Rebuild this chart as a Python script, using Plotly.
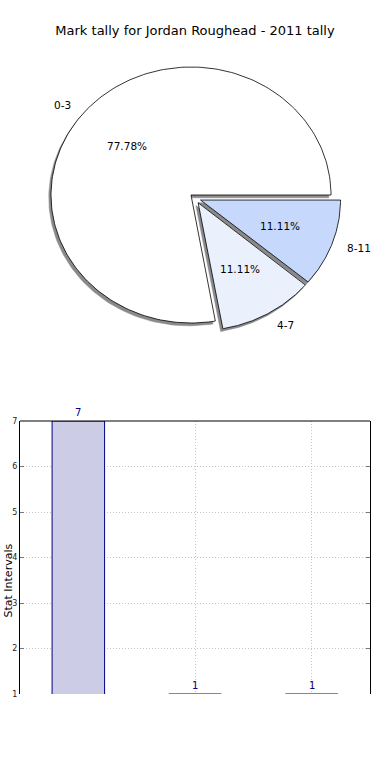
import numpy as np
import plotly.graph_objects as go

# ---- data ----
slice_labels = ["0-3", "4-7", "8-11"]
slice_counts = [7, 1, 1]
slice_colors = ["#ffffff", "#eaf1fd", "#c6d9fd"]
bar_categories = ["0-3", "4-7", "8-11"]
bar_values = [7, 1, 1]
y_ticks = [1, 2, 3, 4, 5, 6, 7]

W, H = 390, 780
explode = 0.04
shadow_dx, shadow_dy = -0.016, -0.022

fig = go.Figure()

total = float(sum(slice_counts))
fracs = [c / total for c in slice_counts]

wedges = []
start = 0.0
for lab, f, col in zip(slice_labels, fracs, slice_colors):
    t1, t2 = start * 2 * np.pi, (start + f) * 2 * np.pi
    mid = (t1 + t2) / 2
    cx, cy = explode * np.cos(mid), explode * np.sin(mid)
    th = np.linspace(t1, t2, 200)
    xs = np.concatenate([[cx], cx + np.cos(th), [cx]])
    ys = np.concatenate([[cy], cy + np.sin(th), [cy]])
    wedges.append((lab, f, col, mid, cx, cy, xs, ys))
    start += f

for lab, f, col, mid, cx, cy, xs, ys in wedges:
    fig.add_trace(go.Scatter(x=xs + shadow_dx, y=ys + shadow_dy, fill="toself",
                             fillcolor="#8a8a8a", line=dict(color="#8a8a8a", width=0.5),
                             mode="lines", hoverinfo="skip", xaxis="x2", yaxis="y2"))
for lab, f, col, mid, cx, cy, xs, ys in wedges:
    fig.add_trace(go.Scatter(x=xs, y=ys, fill="toself", fillcolor=col,
                             line=dict(color="black", width=0.8),
                             mode="lines", name=lab, xaxis="x2", yaxis="y2"))

annotations = []
for lab, f, col, mid, cx, cy, xs, ys in wedges:
    lx, ly = cx + 1.1 * np.cos(mid), cy + 1.1 * np.sin(mid)
    annotations.append(dict(x=lx, y=ly, xref="x2", yref="y2", text=lab, showarrow=False,
                            xanchor="left" if lx > 0 else "right", yanchor="middle",
                            font=dict(size=10.5, color="black")))
    px_, py_ = cx + 0.6 * np.cos(mid), cy + 0.6 * np.sin(mid)
    annotations.append(dict(x=px_, y=py_, xref="x2", yref="y2", text=f"{f*100:.2f}%",
                            showarrow=False, xanchor="center", yanchor="middle",
                            font=dict(size=10.5, color="black")))

# ---- bar chart ----
fig.add_trace(go.Bar(x=bar_categories, y=bar_values, width=0.45,
                     marker=dict(color="#cccce6", line=dict(color="#000080", width=1)),
                     xaxis="x", yaxis="y", cliponaxis=False))
for c, v in zip(bar_categories, bar_values):
    annotations.append(dict(x=c, y=v, xref="x", yref="y", text=str(v), showarrow=False,
                            yanchor="bottom", yshift=1, font=dict(size=10, color="#000080")))

annotations.append(dict(x=-1 / W, y=1 - 581 / H, xref="paper", yref="paper",
                        text="Stat Intervals", textangle=-90, showarrow=False,
                        xanchor="left", yanchor="middle",
                        font=dict(size=11, color="black")))

cx_px, cy_px, rx_px, ry_px = 195.3, 198.3, 140.0, 128.0
pie_top, pie_bot = 40, 360
fig.update_layout(
    xaxis2=dict(domain=[0, 1], range=[-cx_px / rx_px, (W - cx_px) / rx_px], visible=False,
                anchor="y2", fixedrange=True, automargin=False),
    yaxis2=dict(domain=[1 - pie_bot / H, 1 - pie_top / H],
                range=[-(pie_bot - cy_px) / ry_px, (cy_px - pie_top) / ry_px],
                visible=False, anchor="x2", fixedrange=True, automargin=False),
)

bar_left, bar_right, bar_top, bar_bot = 20, 370, 421, 694
fig.update_layout(
    xaxis=dict(domain=[bar_left / W, bar_right / W], anchor="y", range=[-0.5, 2.5],
               showticklabels=False, ticks="", showline=False, zeroline=False,
               automargin=False,
               showgrid=True, gridcolor="#c4c4c4", griddash="1px,2px", gridwidth=1),
    yaxis=dict(domain=[1 - bar_bot / H, 1 - bar_top / H], anchor="x", range=[1, 7],
               tickvals=y_ticks, showline=True, linecolor="black", linewidth=1,
               mirror="ticks", ticks="inside", ticklen=4, tickcolor="#777777",
               tickfont=dict(size=8, color="#222222"), zeroline=False, automargin=False,
               showgrid=True, gridcolor="#c4c4c4", griddash="1px,2px", gridwidth=1),
    shapes=[dict(type="line", xref="x domain", yref="y domain", x0=0, x1=1, y0=1, y1=1,
                 line=dict(color="black", width=1))],
)

fig.update_layout(
    width=W, height=H, margin=dict(l=0, r=0, t=0, b=0, autoexpand=False),
    paper_bgcolor="white", plot_bgcolor="white", showlegend=False,
    font=dict(family="DejaVu Sans", color="black"),
    title=dict(text="Mark tally for Jordan Roughead - 2011 tally", x=0.5, xanchor="center",
               y=1 - 30 / H, yanchor="middle", font=dict(size=13, color="black"),
               automargin=False),
    annotations=annotations,
)

fig.write_html("out.html", config={"displayModeBar": False},
               post_script="document.body.style.margin='0';document.body.style.overflow='hidden';")
